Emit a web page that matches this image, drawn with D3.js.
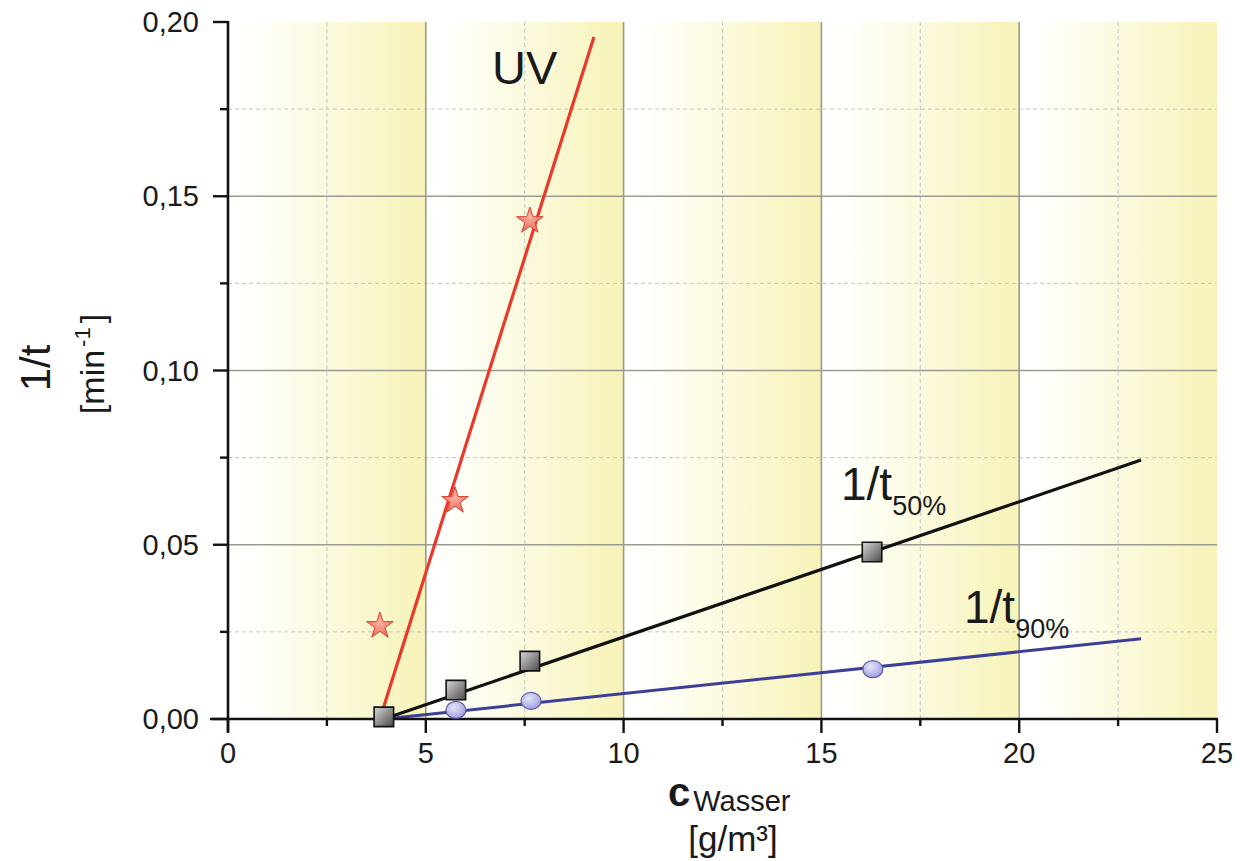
<!DOCTYPE html>
<html><head><meta charset="utf-8">
<script src="https://cdn.jsdelivr.net/npm/d3@7"></script>
<style>
html,body{margin:0;padding:0;background:#fff;}
text{font-family:"Liberation Sans",Arial,sans-serif;fill:#1a1a1a;}
</style></head>
<body>
<svg id="c" width="1240" height="861"></svg>
<script>
// ---- data ----
const uvX = [3.84, 5.74, 7.63];
const uvY = [0.0267, 0.0626, 0.1429];
const uvFitX = [3.84, 9.25];
const uvFitY = [0.0, 0.1957];

const t50X = [3.94, 5.76, 7.63, 16.28];
const t50Y = [0.0006, 0.0083, 0.0166, 0.0479];
const t50FitX = [3.94, 23.08];
const t50FitY = [0.0, 0.0743];

const t90X = [5.76, 7.66, 16.3];
const t90Y = [0.0026, 0.0052, 0.0143];
const t90FitX = [3.94, 23.08];
const t90FitY = [0.0, 0.0230];

const xMajorTicks = [0, 5, 10, 15, 20, 25];
const xMinorTicks = [2.5, 7.5, 12.5, 17.5, 22.5];
const yMajorTicks = [0, 0.05, 0.10, 0.15, 0.20];
const yMinorTicks = [0.025, 0.075, 0.125, 0.175];
const bands = [[0,5],[5,10],[10,15],[15,20],[20,25]];

// ---- layout ----
const svg = d3.select("#c");
const L = 228, R = 1217, T = 22, B = 719;
const x = d3.scaleLinear().domain([0, 25]).range([L, R]);
const y = d3.scaleLinear().domain([0, 0.20]).range([B, T]);

const defs = svg.append("defs");
const grad = defs.append("linearGradient").attr("id","band").attr("x1","0").attr("x2","1").attr("y1","0").attr("y2","0");
grad.append("stop").attr("offset","0").attr("stop-color","#ffffff");
grad.append("stop").attr("offset","0.12").attr("stop-color","#fffffc");
grad.append("stop").attr("offset","0.55").attr("stop-color","#fbf9da");
grad.append("stop").attr("offset","1").attr("stop-color","#f7f3b8");

const sq = defs.append("linearGradient").attr("id","sq").attr("x1","0").attr("x2","1").attr("y1","0").attr("y2","1");
sq.append("stop").attr("offset","0").attr("stop-color","#d8d8d8");
sq.append("stop").attr("offset","1").attr("stop-color","#4a4a4a");
const cg = defs.append("radialGradient").attr("id","cg").attr("cx","0.4").attr("cy","0.35").attr("r","0.7");
cg.append("stop").attr("offset","0").attr("stop-color","#e6e6fb");
cg.append("stop").attr("offset","1").attr("stop-color","#9c9cdc");
const stg = defs.append("radialGradient").attr("id","stg").attr("cx","0.5").attr("cy","0.4").attr("r","0.6");
stg.append("stop").attr("offset","0").attr("stop-color","#fbb3a4");
stg.append("stop").attr("offset","1").attr("stop-color","#ec6a55");

// background bands
svg.append("g").selectAll("rect").data(bands).join("rect")
  .attr("x", d => x(d[0])).attr("width", d => x(d[1]) - x(d[0]))
  .attr("y", T).attr("height", B - T).attr("fill", "url(#band)");

// grid
const grid = svg.append("g");
grid.selectAll(".vmin").data(xMinorTicks).join("line")
  .attr("x1", d => x(d)).attr("x2", d => x(d)).attr("y1", T).attr("y2", B)
  .attr("stroke","#c4c4c4").attr("stroke-width",1).attr("stroke-dasharray","4,3");
grid.selectAll(".hmin").data(yMinorTicks).join("line")
  .attr("x1", L).attr("x2", R).attr("y1", d => y(d)).attr("y2", d => y(d))
  .attr("stroke","#c4c4c4").attr("stroke-width",1).attr("stroke-dasharray","4,3");
grid.selectAll(".vmaj").data(xMajorTicks.filter(d => d > 0 && d < 25)).join("line")
  .attr("x1", d => x(d)).attr("x2", d => x(d)).attr("y1", T).attr("y2", B)
  .attr("stroke","#9a9a90").attr("stroke-width",1.6);
grid.selectAll(".hmaj").data(yMajorTicks.filter(d => d > 0 && d < 0.2)).join("line")
  .attr("x1", L).attr("x2", R).attr("y1", d => y(d)).attr("y2", d => y(d))
  .attr("stroke","#9a9a90").attr("stroke-width",1.6);

// fit lines
const line = d3.line().x(d => x(d[0])).y(d => y(d[1]));
function fit(xs, ys){ return xs.map((v,i)=>[v, ys[i]]); }
svg.append("path").datum(fit(t90FitX,t90FitY)).attr("d", line).attr("fill","none").attr("stroke","#3b3f98").attr("stroke-width",3);
svg.append("path").datum(fit(t50FitX,t50FitY)).attr("d", line).attr("fill","none").attr("stroke","#111").attr("stroke-width",3.2);
svg.append("path").datum(fit(uvFitX,uvFitY)).attr("d", line).attr("fill","none").attr("stroke","#e8392b").attr("stroke-width",3.2);

// axes
const fmt = d => d3.format(".2f")(d).replace(".", ",");
const ax = svg.append("g");
ax.append("line").attr("x1", L).attr("x2", L).attr("y1", T - 1).attr("y2", B + 13).attr("stroke","#111").attr("stroke-width",2.6);
ax.append("line").attr("x1", L - 18).attr("x2", R + 1).attr("y1", B).attr("y2", B).attr("stroke","#111").attr("stroke-width",2.6);
ax.selectAll(".ytm").data(yMajorTicks).join("line")
  .attr("x1", L - 15).attr("x2", L).attr("y1", d => y(d)).attr("y2", d => y(d)).attr("stroke","#111").attr("stroke-width",2.4);
ax.selectAll(".ytn").data(yMinorTicks).join("line")
  .attr("x1", L - 8).attr("x2", L).attr("y1", d => y(d)).attr("y2", d => y(d)).attr("stroke","#111").attr("stroke-width",2.4);
ax.selectAll(".xtm").data(xMajorTicks).join("line")
  .attr("x1", d => x(d)).attr("x2", d => x(d)).attr("y1", B).attr("y2", B + 14).attr("stroke","#111").attr("stroke-width",2.4);
ax.selectAll(".xtn").data(xMinorTicks).join("line")
  .attr("x1", d => x(d)).attr("x2", d => x(d)).attr("y1", B).attr("y2", B + 7).attr("stroke","#111").attr("stroke-width",2.4);
ax.selectAll(".ytl").data(yMajorTicks).join("text")
  .attr("x", 199).attr("y", d => y(d) + 10).attr("text-anchor","end")
  .style("font-size","29px").text(fmt);
ax.selectAll(".xtl").data(xMajorTicks).join("text")
  .attr("x", d => x(d)).attr("y", 763).attr("text-anchor","middle")
  .style("font-size","29px").text(d => d);

// markers
svg.append("g").selectAll("ellipse").data(t90X.map((v,i)=>[v,t90Y[i]])).join("ellipse")
  .attr("cx", d => x(d[0])).attr("cy", d => y(d[1])).attr("rx", 10).attr("ry", 8.5)
  .attr("fill","url(#cg)").attr("stroke","#5a5aa8").attr("stroke-width",1.2);
svg.append("g").selectAll("path").data(t50X.map((v,i)=>[v,t50Y[i]])).join("path")
  .attr("transform", d => `translate(${x(d[0])},${y(d[1])})`)
  .attr("d", d3.symbol(d3.symbolSquare, 380))
  .attr("fill","url(#sq)").attr("stroke","#111").attr("stroke-width",1.6);
svg.append("g").selectAll("path").data(uvX.map((v,i)=>[v,uvY[i]])).join("path")
  .attr("transform", d => `translate(${x(d[0])},${y(d[1])})`)
  .attr("d", d3.symbol(d3.symbolStar, 220))
  .attr("fill","url(#stg)").attr("stroke","#d94434").attr("stroke-width",1);

// series labels
svg.append("text").attr("x", 492).attr("y", 84).style("font-size","47px").text("UV");
const l50 = svg.append("text").attr("x", 841).attr("y", 500).style("font-size","46px");
l50.append("tspan").text("1/t");
l50.append("tspan").attr("dy", 15).style("font-size","27px").text("50%");
const l90 = svg.append("text").attr("x", 964).attr("y", 623).style("font-size","46px");
l90.append("tspan").text("1/t");
l90.append("tspan").attr("dy", 15).style("font-size","27px").text("90%");

// axis titles
const yt = svg.append("g").attr("transform","translate(50,368) rotate(-90)");
yt.append("text").attr("text-anchor","middle").style("font-size","42px").text("1/t");
const yt2 = svg.append("g").attr("transform","translate(104,364) rotate(-90)");
const yu = yt2.append("text").attr("text-anchor","middle").style("font-size","34px");
yu.append("tspan").text("[min");
yu.append("tspan").attr("dx",3).attr("dy",-14).style("font-size","22px").text("-1");
yu.append("tspan").attr("dx",4).attr("dy",14).text("]");

const xt = svg.append("text").attr("x", 668).attr("y", 806);
xt.append("tspan").style("font-size","40px").style("font-weight","bold").text("c");
xt.append("tspan").attr("dx",3).attr("dy",5).style("font-size","29px").text("Wasser");
svg.append("text").attr("x", 733).attr("y", 851).attr("text-anchor","middle").style("font-size","35px").text("[g/m³]");
</script>
</body></html>
